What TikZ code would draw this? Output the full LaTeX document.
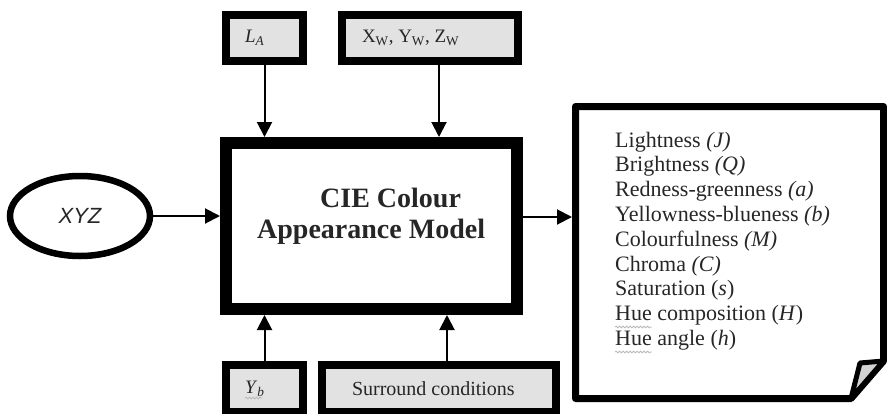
\documentclass[tikz,border=0pt]{standalone}
\usepackage{fontspec}
\setmainfont{Liberation Serif}
\newfontfamily\arialfont{Liberation Sans}
\usetikzlibrary{arrows.meta,decorations.pathmorphing,shapes.geometric}
\definecolor{boxgray}{HTML}{E2E2E2}
\definecolor{txt}{HTML}{262626}
\begin{document}
\begin{tikzpicture}[x=1pt,y=-1pt,
  arr/.style={line width=2pt,-{Triangle[length=15pt,width=15pt]}},
  inbox/.style={draw,fill=boxgray,line width=8pt,inner sep=0pt,outer sep=4pt,minimum height=46pt,text=txt,font=\fontsize{19}{22}\selectfont},
  outline/.style={line width=7pt,line join=round},
  outtext/.style={anchor=base west,inner sep=0pt,text=txt,font=\fontsize{22}{24.8}\selectfont},
  wavy/.style={draw=gray!55,line width=0.8pt,decorate,decoration={snake,amplitude=0.9pt,segment length=3.5pt}}]
\useasboundingbox (0,0) rectangle (887,413);
% main box
\node[draw,line width=12pt,minimum width=291pt,minimum height=166pt,inner sep=0pt,outer sep=6pt] (main) at (371.5,226) {};
\node[anchor=base west,inner sep=0pt,text=txt,font=\fontsize{28}{30}\selectfont\bfseries] (t1) at (320,207) {CIE Colour};
\node[anchor=base west,inner sep=0pt,text=txt,font=\fontsize{28}{30}\selectfont\bfseries] (t2) at (257,238) {Appearance Model};
% input boxes
\node[inbox,minimum width=77pt] (la) at (264.5,38) {\makebox[77pt][l]{\hspace{19pt}\textit{L}\textsubscript{\textit{A}}}};
\node[inbox,minimum width=176pt] (xw) at (430,38) {\makebox[176pt][l]{\hspace{20pt}X\textsubscript{W}, Y\textsubscript{W}, Z\textsubscript{W}}};
\node[inbox,minimum width=77pt,minimum height=47pt] (yb) at (264.5,388.5) {\makebox[77pt][l]{\hspace{19pt}\textit{Y}\textsubscript{\textit{b}}}};
\node[inbox,minimum width=234pt,minimum height=47pt,font=\fontsize{20}{23}\selectfont] (sur) at (439,388.5) {\makebox[234pt][l]{\hspace{30pt}Surround conditions}};
% XYZ ellipse
\node[ellipse,draw,line width=6.5pt,minimum width=140pt,minimum height=80pt,inner sep=0pt,outer sep=3pt,text=txt,font=\arialfont\itshape\fontsize{22}{26}\selectfont] (xyz) at (80,216) {XYZ};
% connectors
\draw[arr] (la.south) -- (la.south |- main.north);
\draw[arr] ([xshift=9pt]xw.south) -- ([xshift=9pt]xw.south |- main.north);
\draw[arr] (yb.north) -- (yb.north |- main.south);
\draw[arr] ([xshift=8pt]sur.north) -- ([xshift=8pt]sur.north |- main.south);
\draw[arr] (xyz.east) -- (xyz.east -| main.west);
\coordinate (docw) at (572,217);
\draw[arr] (main.east |- docw) -- (docw);
% output document
\draw[outline] (575.5,106.5) -- (883.5,106.5) -- (883.5,361) -- (851,398.5) -- (575.5,398.5) -- cycle;
\draw[line width=5pt,line join=round,fill=gray!35] (860,363) -- (883.5,361) -- (851,398.5) -- cycle;
\node[outtext] (o1) at (615,147.0) {Lightness \textit{(J)}};
\node[outtext] (o2) at (615,171.8) {Brightness \textit{(Q)}};
\node[outtext] (o3) at (615,196.6) {Redness-greenness \textit{(a)}};
\node[outtext] (o4) at (615,221.4) {Yellowness-blueness \textit{(b)}};
\node[outtext] (o5) at (615,246.2) {Colourfulness \textit{(M)}};
\node[outtext] (o6) at (615,271.0) {Chroma \textit{(C)}};
\node[outtext] (o7) at (615,295.8) {Saturation (\textit{s})};
\node[outtext] (o8) at (615,320.6) {Hue composition (\textit{H})};
\node[outtext] (o9) at (615,345.4) {Hue angle (\textit{h})};
% spell-check underlines
\draw[wavy] (615,327) -- (652,327);
\draw[wavy] (615,352) -- (652,352);
\draw[wavy] (245,398) -- (262,398);
\end{tikzpicture}
\end{document}
